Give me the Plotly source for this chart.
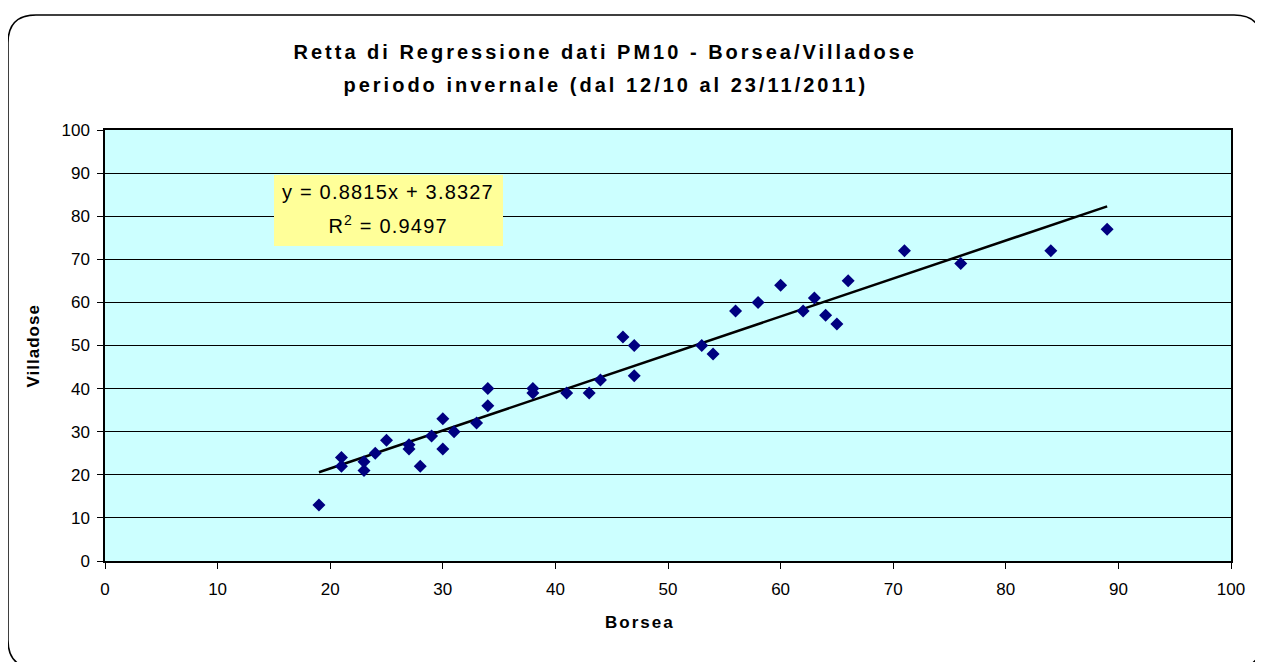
import numpy as np
import plotly.graph_objects as go

# PM10 daily values (ug/m3), winter period 12/10 - 23/11/2011
borsea = [19, 21, 21, 23, 23, 24, 25, 27, 27, 28, 29, 30, 30, 31, 33, 34, 34,
          38, 38, 41, 43, 44, 46, 47, 47, 53, 54, 56, 58, 60, 62, 63, 64, 65,
          66, 71, 76, 84, 89]
villadose = [13, 24, 22, 23, 21, 25, 28, 27, 26, 22, 29, 33, 26, 30, 32, 40, 36,
             40, 39, 39, 39, 42, 52, 50, 43, 50, 48, 58, 60, 64, 58, 61, 57, 55,
             65, 72, 69, 72, 77]

slope = 0.8815
intercept = 3.8327
r2 = 0.9497

axis_ticks = [0, 10, 20, 30, 40, 50, 60, 70, 80, 90, 100]

# page pixels; the html body has an 8px margin, so the figure is shrunk by that
W, H, OFF = 1263, 662, 8
L, R, T, B = 105, 1231, 130, 561   # plot area on the page


def px(x):
    return (x - L) / (R - L)


def py(y):
    return (B - y) / (B - T)


fig = go.Figure()

xs = np.array([min(borsea), max(borsea)])
fig.add_trace(go.Scatter(
    x=xs, y=slope * xs + intercept, mode="lines",
    line=dict(color="black", width=2.5), hoverinfo="skip", showlegend=False,
))
fig.add_trace(go.Scatter(
    x=borsea, y=villadose, mode="markers",
    marker=dict(symbol="diamond", size=10, color="#000080"),
    showlegend=False,
))

axis_font = dict(family="Liberation Sans, Arial", size=17, color="black")
fig.update_xaxes(
    range=[0, 100], tickvals=axis_ticks, showgrid=False, zeroline=False,
    showline=True, linecolor="black", linewidth=1.5, mirror=True,
    ticks="outside", ticklen=6, tickcolor="black", tickfont=axis_font,
    ticklabelstandoff=6,
)
fig.update_yaxes(
    range=[0, 100], tickvals=axis_ticks, showgrid=True, gridcolor="black",
    gridwidth=1, zeroline=False,
    showline=True, linecolor="black", linewidth=1.5, mirror=True,
    ticks="outside", ticklen=6, tickcolor="black", tickfont=axis_font,
    ticklabelstandoff=4,
)

# rounded outer border of the chart area
x0, x1, y0, y1, rad = 8, 1262, 15, 668, 28
rx = rad / (R - L)
ry = rad / (B - T)
X0, X1, Y0, Y1 = px(x0), px(x1), py(y0), py(y1)
path = (f"M {X0 + rx},{Y0} L {X1 - rx},{Y0} Q {X1},{Y0} {X1},{Y0 - ry} "
        f"L {X1},{Y1 + ry} Q {X1},{Y1} {X1 - rx},{Y1} "
        f"L {X0 + rx},{Y1} Q {X0},{Y1} {X0},{Y1 + ry} "
        f"L {X0},{Y0 - ry} Q {X0},{Y0} {X0 + rx},{Y0} Z")
fig.add_shape(type="path", path=path, xref="paper", yref="paper",
              line=dict(color="black", width=1.5), layer="below")

# yellow box of the trendline label
fig.add_shape(type="rect", xref="paper", yref="paper",
              x0=px(274), x1=px(503), y0=py(246), y1=py(175),
              fillcolor="#FFFF99", line=dict(width=0), layer="above")

title_font = dict(family="Liberation Sans, Arial", size=20, color="black", weight="bold")
label_font = dict(family="Liberation Sans, Arial", size=17, color="black", weight="bold")
eq_font = dict(family="Liberation Sans, Arial", size=20, color="black")

# (text, x, y, font, angle, letter spacing)
labels = [
    ("Retta di Regressione dati PM10 - Borsea/Villadose", 605, 52, title_font, 0, 3),
    ("periodo invernale (dal 12/10 al 23/11/2011)", 606, 85, title_font, 0, 3),
    ("Borsea", 640, 622, label_font, 0, 2),
    ("Villadose", 33, 346, label_font, -90, 1),
    (f"y = {slope}x + {intercept}", 388, 192, eq_font, 0, 1.2),
    (f"R<sup>2</sup> = {r2}", 388, 224, eq_font, 0, 1.2),
]
for text, x, y, font, angle, _ in labels:
    fig.add_annotation(text=text, xref="paper", yref="paper", x=px(x), y=py(y),
                       xanchor="center", yanchor="middle",
                       showarrow=False, font=font, textangle=angle)

spacing = [lab[5] for lab in labels]
post = """
var gd = document.getElementById('{plot_id}');
var sp = %s;
gd.querySelectorAll('g.annotation').forEach(function (a) {
    var i = +a.getAttribute('data-index');
    var t = a.querySelector('text');
    if (t && sp[i]) { t.style.letterSpacing = sp[i] + 'px'; }
});
""" % spacing

fig.update_layout(
    width=W - OFF, height=H - OFF,
    margin=dict(l=L - OFF, r=W - R, t=T - OFF, b=H - B),
    paper_bgcolor="white", plot_bgcolor="#CCFFFF",
)

fig.write_html("out.html", post_script=post)
